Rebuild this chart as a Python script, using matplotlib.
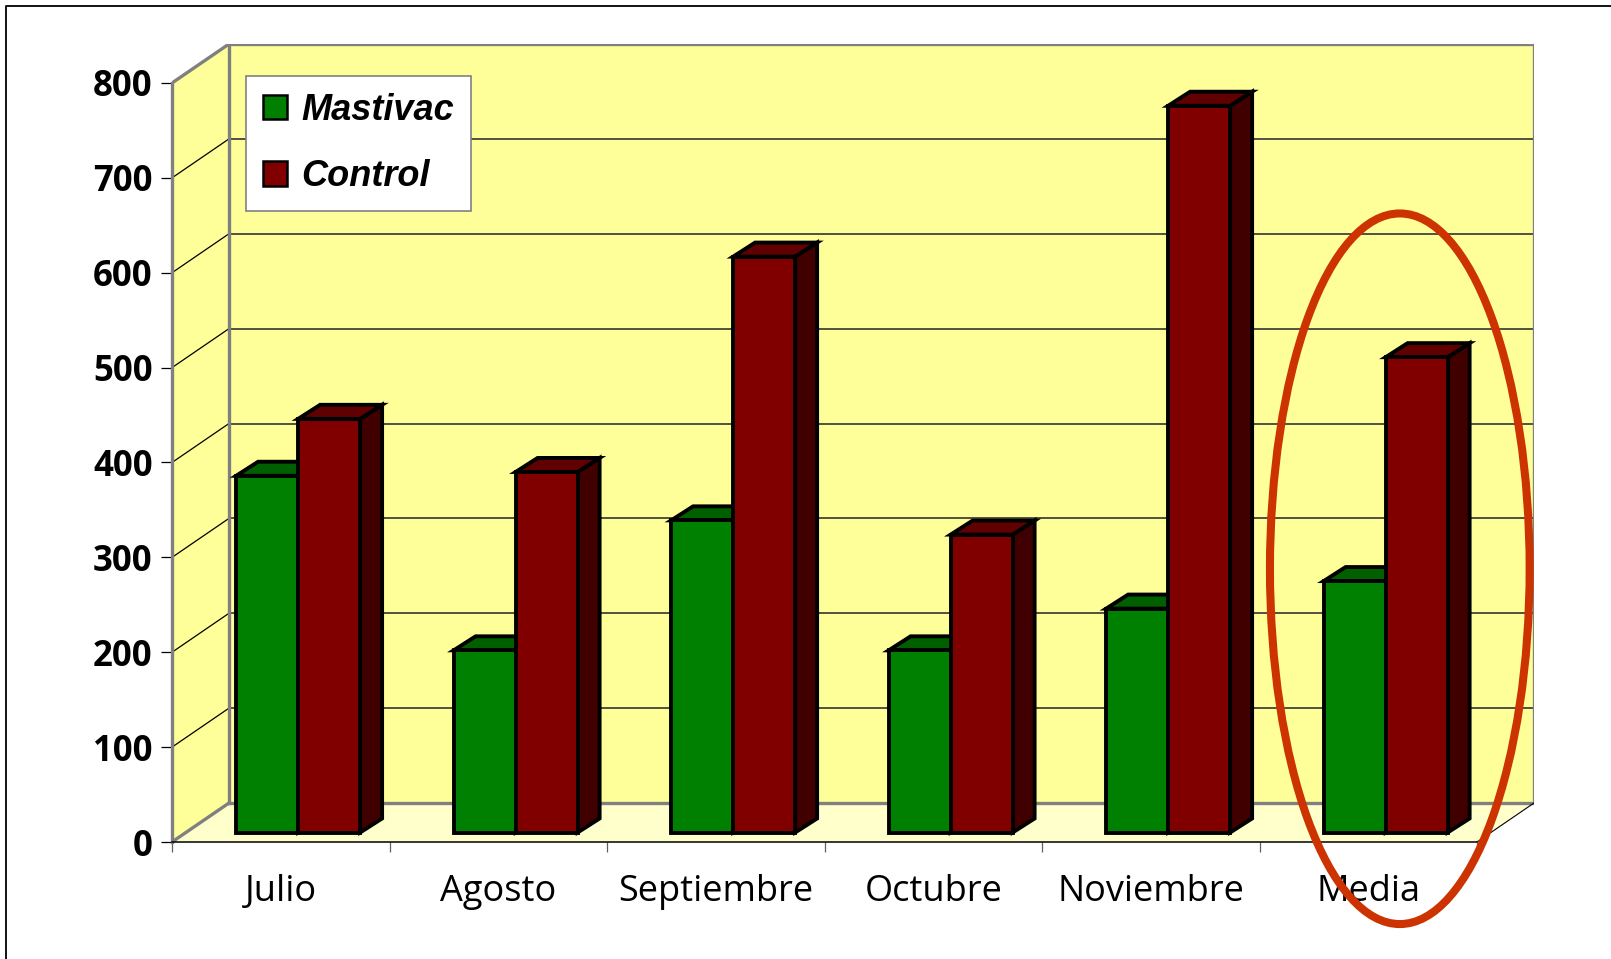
import matplotlib
matplotlib.use("Agg")
import matplotlib.pyplot as plt
from matplotlib.patches import Polygon, Ellipse, Patch
from matplotlib.lines import Line2D

# data
categories = ["Julio", "Agosto", "Septiembre", "Octubre", "Noviembre", "Media"]
mastivac = [376, 192, 329, 192, 236, 265]
control = [436, 380, 607, 314, 766, 501]
series_names = ["Mastivac", "Control"]
y_ticks = [0, 100, 200, 300, 400, 500, 600, 700, 800]

# colours
WALL = "#FFFF99"
FLOOR = "#FFFFCC"
EDGE_GRAY = "#808080"
GREEN = ("#008000", "#006000", "#004000")   # front, top, side
RED = ("#800000", "#600000", "#400000")

# pseudo-3D geometry (category units, value units)
DDX, DDY = 0.262, 41.1        # wall depth
BDX, BDY = 0.101, 14.8        # bar depth
BAR_OFF, BAR_W, BAR_BASE = 0.295, 0.285, 10.0

W, H = 1611, 959
fig = plt.figure(figsize=(W / 100, H / 100), dpi=100)
ax = fig.add_axes([172 / W, (H - 842) / H, 1362 / W, 798 / H])
ax.set_xlim(0, 6 + DDX)
ax.set_ylim(0, 800 + DDY)
ax.patch.set_visible(False)

n = len(categories)
ymax = y_ticks[-1]

# walls and floor
ax.add_patch(Polygon([(0, 0), (0, ymax), (DDX, ymax + DDY), (DDX, DDY)],
                     closed=True, fc=WALL, ec="none", zorder=0))
ax.add_patch(Polygon([(DDX, DDY), (n + DDX, DDY), (n + DDX, ymax + DDY), (DDX, ymax + DDY)],
                     closed=True, fc=WALL, ec="none", zorder=0))
ax.add_patch(Polygon([(0, 0), (n, 0), (n + DDX, DDY), (DDX, DDY)],
                     closed=True, fc=FLOOR, ec="none", zorder=0))

# gridlines on back wall and side wall
for v in y_ticks[1:-1]:
    ax.plot([DDX, n + DDX], [v + DDY, v + DDY], color="#333333", lw=1.2, zorder=1)
    ax.plot([0, DDX], [v, v + DDY], color="black", lw=0.9, zorder=1)

# wall edges
ax.plot([DDX, n + DDX, n + DDX, DDX, DDX], [DDY, DDY, ymax + DDY, ymax + DDY, DDY],
        color=EDGE_GRAY, lw=2.4, zorder=2, solid_joinstyle="miter")
ax.plot([0, DDX], [ymax, ymax + DDY], color=EDGE_GRAY, lw=2.4, zorder=2)
ax.plot([0, DDX], [0, DDY], color=EDGE_GRAY, lw=2.4, zorder=2)
ax.plot([n, n + DDX], [0, DDY], color="black", lw=0.8, zorder=2)


def draw_bar(x0, value, cols, z):
    x1 = x0 + BAR_W
    y0, y1 = BAR_BASE, BAR_BASE + value
    kw = dict(closed=True, ec="black", lw=2.8, joinstyle="miter", zorder=z)
    ax.add_patch(Polygon([(x1, y0), (x1 + BDX, y0 + BDY), (x1 + BDX, y1 + BDY), (x1, y1)],
                         fc=cols[2], **kw))
    ax.add_patch(Polygon([(x0, y1), (x1, y1), (x1 + BDX, y1 + BDY), (x0 + BDX, y1 + BDY)],
                         fc=cols[1], **kw))
    ax.add_patch(Polygon([(x0, y0), (x1, y0), (x1, y1), (x0, y1)], fc=cols[0], **kw))


for i in range(n):
    left = i + BAR_OFF
    draw_bar(left, mastivac[i], GREEN, 3 + 2 * i)
    draw_bar(left + BAR_W, control[i], RED, 4 + 2 * i)

# axes: spines and ticks
for s in ("top", "right"):
    ax.spines[s].set_visible(False)
ax.spines["left"].set_bounds(0, ymax)
ax.spines["left"].set_color(EDGE_GRAY)
ax.spines["left"].set_linewidth(2.4)
ax.spines["left"].set_zorder(2)
ax.spines["bottom"].set_bounds(0, n)
ax.spines["bottom"].set_color("black")
ax.spines["bottom"].set_linewidth(1.1)
ax.spines["bottom"].set_zorder(2)

ax.set_yticks(y_ticks)
ax.set_yticklabels([str(v) for v in y_ticks], fontfamily="Open Sans", fontweight="bold", fontsize=25)
ax.tick_params(axis="y", direction="out", length=8, width=0.9, color="black", pad=6)

ax.set_xticks(range(n + 1))
ax.set_xticklabels([])
ax.set_xticks([i + 0.5 for i in range(n)], minor=True)
ax.set_xticklabels(categories, minor=True, fontfamily="Open Sans", fontsize=26)
ax.tick_params(axis="x", which="major", direction="out", length=7, width=0.9, color="#606060")
ax.tick_params(axis="x", which="minor", length=0, pad=23)

# highlight ellipse around "Media"
ax.add_patch(Ellipse((5.645, 288), 1.194, 749, fill=False, ec="#CC3300", lw=5.8,
                     zorder=30, clip_on=False))

# legend
handles = [Patch(fc=GREEN[0], ec="black", lw=1.8), Patch(fc=RED[0], ec="black", lw=1.8)]
leg = ax.legend(handles, series_names, loc="upper left",
                bbox_to_anchor=(246 / W, 1 - 76 / H), bbox_transform=fig.transFigure,
                prop=dict(family="Liberation Sans", weight="bold", style="italic", size=26),
                handlelength=0.67, handleheight=0.67, handletextpad=0.4,
                labelspacing=0.88, borderpad=0.46, borderaxespad=0,
                fancybox=False, framealpha=1, edgecolor=EDGE_GRAY, facecolor="white")
leg.get_frame().set_linewidth(1.2)
leg.set_zorder(20)

# picture frame (top and left edges only visible)
fig.add_artist(Line2D([6 / W, 6 / W, 1], [0, 1 - 6 / H, 1 - 6 / H],
                      transform=fig.transFigure, color="black", lw=1.3))

fig.savefig("out.png", dpi=100)
